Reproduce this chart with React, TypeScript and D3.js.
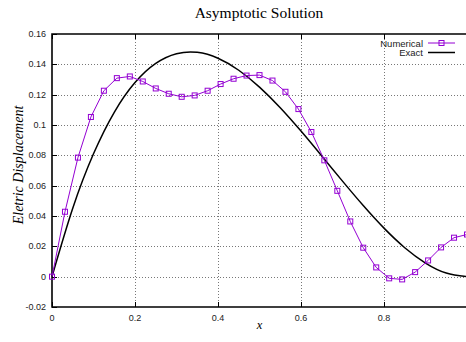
import React, { useEffect, useRef } from 'react';
import * as d3 from 'd3';

// numerical solution, sampled at x = i/32
const numX = d3.range(33).map(i => i / 32);
const numY = [
  0, 0.0428, 0.0785, 0.1053, 0.1226, 0.1309, 0.132, 0.1287, 0.1241, 0.1206, 0.1186,
  0.1195, 0.1226, 0.127, 0.1305, 0.1326, 0.1329, 0.1293, 0.1219, 0.1105, 0.0954,
  0.0767, 0.0566, 0.0364, 0.0191, 0.0061, -0.0011, -0.0018, 0.003, 0.0107, 0.0193,
  0.0257, 0.0278,
];

// exact solution, read at 0.05 steps
const exactX = [0, 0.05, 0.1, 0.15, 0.2, 0.25, 0.3, 0.35, 0.4, 0.45, 0.5, 0.55, 0.6, 0.65, 0.7, 0.75, 0.8, 0.85, 0.9, 0.95, 1];
const exactY = [0, 0.0451, 0.081, 0.1084, 0.128, 0.1406, 0.147, 0.1479, 0.144, 0.1361, 0.125, 0.1114, 0.096, 0.0796, 0.063, 0.0469, 0.032, 0.0191, 0.009, 0.0024, 0];

const xTicks = [0, 0.2, 0.4, 0.6, 0.8, 1];
const xLabels = ['0', '0.2', '0.4', '0.6', '0.8'];
const yTicks = [-0.02, 0, 0.02, 0.04, 0.06, 0.08, 0.1, 0.12, 0.14, 0.16];

const PURPLE = '#9400d3';

const App = () => {
  const svgRef = useRef<SVGSVGElement>(null);

  useEffect(() => {
    const width = 466;
    const height = 342;
    const m = { left: 52, top: 34, right: width - 467, bottom: height - 307 };

    const svg = d3.select(svgRef.current);
    svg.selectAll('*').remove();
    svg.attr('width', width).attr('height', height);

    const x = d3.scaleLinear().domain([0, 1]).range([m.left, width - m.right]);
    const y = d3.scaleLinear().domain([-0.02, 0.16]).range([height - m.bottom, m.top]);

    const sans = 'Liberation Sans, Arial, sans-serif';
    const serif = 'Liberation Serif, Times New Roman, serif';

    // grid
    const grid = svg.append('g').attr('stroke', '#777').attr('stroke-width', 1).attr('stroke-dasharray', '1,2');
    grid.selectAll('.gx')
      .data(xTicks.slice(1))
      .enter()
      .append('line')
      .attr('x1', d => Math.round(x(d)) + 0.5)
      .attr('x2', d => Math.round(x(d)) + 0.5)
      .attr('y1', y(-0.02))
      .attr('y2', y(0.16));
    grid.selectAll('.gy')
      .data(yTicks.slice(1, -1))
      .enter()
      .append('line')
      .attr('x1', x(0))
      .attr('x2', x(1))
      .attr('y1', d => Math.round(y(d)) + 0.5)
      .attr('y2', d => Math.round(y(d)) + 0.5);

    // ticks
    const ticks = svg.append('g').attr('stroke', '#000').attr('stroke-width', 1);
    xTicks.forEach(t => {
      const px = Math.round(x(t)) + 0.5;
      ticks.append('line').attr('x1', px).attr('x2', px).attr('y1', y(-0.02)).attr('y2', y(-0.02) - 5);
      ticks.append('line').attr('x1', px).attr('x2', px).attr('y1', y(0.16)).attr('y2', y(0.16) + 5);
    });
    yTicks.forEach(t => {
      const py = Math.round(y(t)) + 0.5;
      ticks.append('line').attr('x1', x(0)).attr('x2', x(0) + 5).attr('y1', py).attr('y2', py);
    });

    // border
    svg.append('path')
      .attr('d', `M${x(1)},${y(0.16)}H${x(0)}V${y(-0.02)}H${x(1)}`)
      .attr('fill', 'none')
      .attr('stroke', '#000')
      .attr('stroke-width', 1.6);

    // tick labels
    svg.selectAll('.xl')
      .data(xLabels)
      .enter()
      .append('text')
      .attr('x', (d, i) => x(xTicks[i]))
      .attr('y', y(-0.02) + 14)
      .attr('text-anchor', 'middle')
      .style('font-family', sans)
      .style('font-size', '9px')
      .style('fill', '#222')
      .text(d => d);
    svg.selectAll('.yl')
      .data(yTicks)
      .enter()
      .append('text')
      .attr('x', x(0) - 6)
      .attr('y', d => y(d) + 3)
      .attr('text-anchor', 'end')
      .style('font-family', sans)
      .style('font-size', '9px')
      .style('fill', '#222')
      .text(d => String(d));

    // exact line
    const exact = exactX.map((d, i) => [d, exactY[i]] as [number, number]);
    svg.append('path')
      .datum(exact)
      .attr('d', d3.line<[number, number]>().x(d => x(d[0])).y(d => y(d[1])).curve(d3.curveNatural))
      .attr('fill', 'none')
      .attr('stroke', '#000')
      .attr('stroke-width', 1.5);

    // numerical line + markers
    const num = numX.map((d, i) => [d, numY[i]] as [number, number]);
    svg.append('path')
      .datum(num)
      .attr('d', d3.line<[number, number]>().x(d => x(d[0])).y(d => y(d[1])))
      .attr('fill', 'none')
      .attr('stroke', PURPLE)
      .attr('stroke-width', 1);
    svg.selectAll('.pt')
      .data(num)
      .enter()
      .append('rect')
      .attr('x', d => x(d[0]) - 2.5)
      .attr('y', d => y(d[1]) - 2.5)
      .attr('width', 5)
      .attr('height', 5)
      .attr('fill', 'none')
      .attr('stroke', PURPLE)
      .attr('stroke-width', 1);

    // legend
    const legend = [
      { name: 'Numerical', color: PURPLE, marker: true, y: 43 },
      { name: 'Exact', color: '#000', marker: false, y: 52.5 },
    ];
    legend.forEach(l => {
      svg.append('text')
        .attr('x', 423)
        .attr('y', l.y + 3.5)
        .attr('text-anchor', 'end')
        .style('font-family', sans)
        .style('font-size', '9.5px')
        .style('fill', '#222')
        .text(l.name);
      svg.append('line')
        .attr('x1', 428).attr('x2', 455)
        .attr('y1', l.y).attr('y2', l.y)
        .attr('stroke', l.color)
        .attr('stroke-width', l.marker ? 1 : 1.5);
      if (l.marker) {
        svg.append('rect')
          .attr('x', 439).attr('y', l.y - 2.5)
          .attr('width', 5).attr('height', 5)
          .attr('fill', 'none')
          .attr('stroke', l.color);
      }
    });

    // title and axis labels
    svg.append('text')
      .attr('x', 259)
      .attr('y', 18)
      .attr('text-anchor', 'middle')
      .style('font-family', serif)
      .style('font-size', '15.5px')
      .text('Asymptotic Solution');
    svg.append('text')
      .attr('x', 259.5)
      .attr('y', 328.5)
      .attr('text-anchor', 'middle')
      .style('font-family', serif)
      .style('font-style', 'italic')
      .style('font-size', '12.5px')
      .text('x');
    svg.append('text')
      .attr('transform', `translate(23,165) rotate(-90)`)
      .attr('text-anchor', 'middle')
      .style('font-family', serif)
      .style('font-style', 'italic')
      .style('font-size', '14px')
      .text('Eletric Displacement');
  }, []);

  return (
    <div style={{ position: 'absolute', left: 0, top: 0 }}>
      <svg ref={svgRef}></svg>
    </div>
  );
};

export default App;
